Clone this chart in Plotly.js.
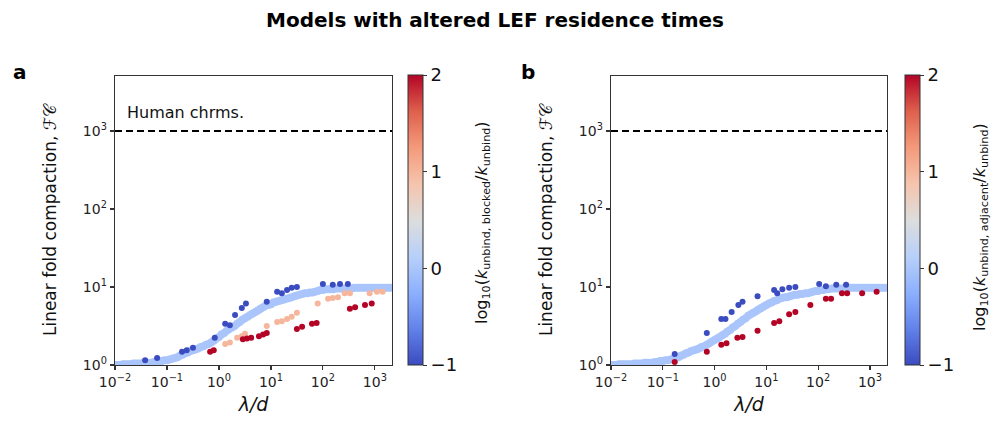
<!DOCTYPE html>
<html><head><meta charset="utf-8">
<script src="https://cdn.plot.ly/plotly-3.0.1.min.js"></script>
<style>html,body{margin:0;padding:0;background:#fff}</style>
</head><body><div id="chart" style="width:991px;height:425px"></div>
<script>
// ---- data (log10 of lambda/d and log10 of FC) ----
const colorValues = [-1, 0, 1, 2];   // log10(k ratio) for each series
const humanFC = 1000;
const xTickVals = [0.01, 0.1, 1, 10, 100, 1000];
const xTickText = ['10<sup>\u22122</sup>','10<sup>\u22121</sup>','10<sup>0</sup>','10<sup>1</sup>','10<sup>2</sup>','10<sup>3</sup>'];
const yTickVals = [1, 10, 100, 1000];
const yTickText = ['10<sup>0</sup>','10<sup>1</sup>','10<sup>2</sup>','10<sup>3</sup>'];

const lbLogLam = [-2.00,-1.95,-1.90,-1.85,-1.80,-1.75,-1.70,-1.65,-1.60,-1.55,-1.50,-1.45,-1.40,-1.35,-1.30,-1.25,-1.20,-1.15,-1.10,-1.05,
  -1.00,-0.95,-0.90,-0.85,-0.80,-0.75,-0.70,-0.65,-0.60,-0.55,-0.50,-0.45,-0.40,-0.35,-0.30,-0.25,-0.20,-0.15,-0.10,-0.05,
  0.00,0.05,0.10,0.15,0.20,0.25,0.30,0.35,0.40,0.45,0.50,0.55,0.60,0.65,0.70,0.75,0.80,0.85,0.90,0.95,
  1.00,1.05,1.10,1.15,1.20,1.25,1.30,1.35,1.40,1.45,1.50,1.55,1.60,1.65,1.70,1.75,1.80,1.85,1.90,1.95,
  2.00,2.05,2.10,2.15,2.20,2.25,2.30,2.35,2.40,2.45,2.50,2.55,2.60,2.65,2.70,2.75,2.80,2.85,2.90,2.95,
  3.00,3.05,3.10,3.15,3.20,3.25,3.30];
const lbLogFcA = [0.00,0.00,0.00,0.01,0.01,0.01,0.01,0.02,0.02,0.02,0.02,0.03,0.03,0.03,0.03,0.04,0.04,0.05,0.05,0.06,
  0.06,0.07,0.08,0.09,0.10,0.12,0.13,0.15,0.16,0.18,0.19,0.20,0.21,0.23,0.24,0.26,0.27,0.29,0.31,0.34,
  0.36,0.39,0.41,0.44,0.46,0.48,0.50,0.53,0.55,0.58,0.60,0.62,0.64,0.66,0.68,0.70,0.72,0.74,0.76,0.77,
  0.78,0.80,0.81,0.82,0.83,0.84,0.85,0.86,0.87,0.88,0.89,0.90,0.91,0.92,0.92,0.93,0.93,0.94,0.95,0.96,
  0.96,0.97,0.97,0.97,0.97,0.98,0.98,0.98,0.98,0.98,0.98,0.98,0.99,0.99,0.99,0.99,0.99,0.99,0.99,0.99,
  0.99,0.99,0.99,0.99,0.99,0.99,0.99];
const lbLogFcB = [0.00,0.00,0.00,0.01,0.01,0.01,0.01,0.01,0.01,0.02,0.02,0.02,0.02,0.03,0.03,0.03,0.03,0.04,0.04,0.05,
  0.05,0.06,0.06,0.07,0.08,0.09,0.10,0.12,0.13,0.15,0.16,0.18,0.19,0.20,0.21,0.23,0.24,0.26,0.28,0.30,
  0.32,0.34,0.36,0.38,0.40,0.43,0.45,0.48,0.50,0.53,0.55,0.58,0.60,0.63,0.65,0.67,0.69,0.71,0.73,0.75,
  0.77,0.79,0.80,0.82,0.83,0.85,0.86,0.87,0.87,0.88,0.89,0.90,0.90,0.91,0.91,0.92,0.92,0.93,0.94,0.95,
  0.95,0.96,0.96,0.97,0.97,0.98,0.98,0.98,0.98,0.98,0.98,0.98,0.99,0.99,0.99,0.99,0.99,0.99,0.99,0.99,
  0.99,0.99,0.99,0.99,0.99,0.99,0.99];

const blueLogLamA = [-1.42,-1.19,-0.71,-0.62,-0.5,-0.08,0.12,0.21,0.31,0.44,0.52,0.92,1.12,1.21,1.31,1.40,1.50,2.0,2.19,2.33,2.48];
const blueLogFcA  = [0.06,0.09,0.17,0.19,0.22,0.35,0.53,0.51,0.64,0.73,0.79,0.81,0.94,0.92,0.96,0.99,1.0,1.04,1.03,1.04,1.04];
const salmonLogLamA = [0.12,0.21,0.35,0.44,0.5,0.92,1.12,1.21,1.31,1.40,1.50,1.9,2.1,2.19,2.29,2.42,2.52,2.9,3.04,3.15];
const salmonLogFcA  = [0.27,0.29,0.35,0.37,0.40,0.50,0.55,0.56,0.59,0.62,0.67,0.79,0.85,0.86,0.87,0.92,0.92,0.92,0.94,0.94];
const redLogLamA = [-0.17,-0.1,0.46,0.54,0.62,0.77,0.85,0.92,1.5,1.6,1.79,1.88,2.52,2.62,2.81,2.94];
const redLogFcA  = [0.17,0.19,0.33,0.34,0.35,0.37,0.39,0.41,0.46,0.49,0.53,0.54,0.72,0.74,0.77,0.79];

const blueLogLamB = [-0.77,-0.15,0.13,0.21,0.33,0.46,0.54,0.83,1.15,1.21,1.31,1.44,1.56,2.02,2.15,2.35,2.54];
const blueLogFcB  = [0.14,0.41,0.59,0.59,0.68,0.77,0.81,0.88,0.96,0.92,0.97,0.99,1.0,1.04,1.01,1.03,1.03];
const redLogLamB = [-0.77,-0.15,0.13,0.23,0.44,0.54,0.83,1.15,1.25,1.44,1.56,1.85,2.15,2.25,2.46,2.56,2.85,3.13];
const redLogFcB  = [0.04,0.17,0.26,0.28,0.35,0.36,0.44,0.54,0.56,0.65,0.68,0.77,0.85,0.85,0.92,0.92,0.92,0.94];

const xLogRange = [-2, 3.33];
const yLogRange = [0, 3.705];

// ---- helpers ----
const pw = a => a.map(v => Math.pow(10, v));
const coolwarm = [
  [0.0,'rgb(59,76,192)'],[0.125,'rgb(98,130,234)'],[0.25,'rgb(141,176,254)'],[0.375,'rgb(184,208,249)'],
  [0.5,'rgb(221,221,221)'],[0.625,'rgb(245,196,173)'],[0.75,'rgb(244,154,123)'],[0.875,'rgb(222,96,77)'],[1.0,'rgb(180,4,38)']];

function pts(lx, ly, val, ax, cax, size) {
  return {type:'scatter', mode:'markers', x: pw(lx), y: pw(ly), xaxis: ax[0], yaxis: ax[1],
    marker:{color: lx.map(() => val), coloraxis: cax, size: size, line:{width:0}},
    showlegend:false, hoverinfo:'x+y'};
}
function refLine(ax) {
  return {type:'scatter', mode:'lines', x:[Math.pow(10,xLogRange[0]), Math.pow(10,xLogRange[1])], y:[humanFC, humanFC],
    xaxis: ax[0], yaxis: ax[1], line:{color:'#000', width:2, dash:'7px,4px'}, showlegend:false, hoverinfo:'skip'};
}
const A = ['x','y'], B = ['x2','y2'];
const data = [
  refLine(A),
  pts(lbLogLam, lbLogFcA, colorValues[1], A, 'coloraxis', 8),
  pts(blueLogLamA, blueLogFcA, colorValues[0], A, 'coloraxis', 6),
  pts(salmonLogLamA, salmonLogFcA, colorValues[2], A, 'coloraxis', 6),
  pts(redLogLamA, redLogFcA, colorValues[3], A, 'coloraxis', 6),
  refLine(B),
  pts(lbLogLam, lbLogFcB, colorValues[1], B, 'coloraxis2', 8),
  pts(blueLogLamB, blueLogFcB, colorValues[0], B, 'coloraxis2', 6),
  pts(redLogLamB, redLogFcB, colorValues[3], B, 'coloraxis2', 6)
];

const W = 991, H = 425;
const font = 'DejaVu Sans, sans-serif';
const yTitle = 'Linear fold compaction, \u2131\uD835\uDC9E';
function xax(dom, anchor) {
  return {domain: dom, anchor: anchor, type:'log', range: xLogRange, tickmode:'array', tickvals: xTickVals, ticktext: xTickText,
    showgrid:false, zeroline:false, ticks:'outside', ticklen:4, tickwidth:1.2, tickcolor:'#333',
    showline:true, linecolor:'#333', linewidth:1.3, mirror:true,
    tickfont:{size:14, color:'#222', family:font},
    title:{text:'<i>\u03bb/d</i>', font:{size:19, color:'#111', family:font}, standoff:8}};
}
function yax(anchor) {
  return {domain:[1-365/H, 1-76/H], anchor: anchor, type:'log', range: yLogRange, tickmode:'array', tickvals: yTickVals, ticktext: yTickText,
    showgrid:false, zeroline:false, ticks:'outside', ticklen:4, tickwidth:1.2, tickcolor:'#333',
    showline:true, linecolor:'#333', linewidth:1.3, mirror:true,
    tickfont:{size:14, color:'#222', family:font},
    title:{text: yTitle, font:{size:17, color:'#111', family:font}, standoff:22}};
}
function cax(xpx) {
  return {cmin:-1, cmax:2, colorscale: coolwarm, showscale:true,
    colorbar:{x: xpx/W, xanchor:'left', xpad:0, ypad:0, thickness:15, thicknessmode:'pixels',
      len: 290/H, lenmode:'fraction', y: 1-220/H, yanchor:'middle',
      outlinewidth:1, outlinecolor:'#333', tickvals: colorValues, ticktext:['\u22121','0','1','2'],
      ticks:'outside', ticklen:4, tickcolor:'#333', tickfont:{size:18, color:'#111', family:font}}};
}
const cbTitleA = 'log<sub>10</sub>(<i>k</i><sub>unbind, blocked</sub>/<i>k</i><sub>unbind</sub>)';
const cbTitleB = 'log<sub>10</sub>(<i>k</i><sub>unbind, adjacent</sub>/<i>k</i><sub>unbind</sub>)';
const layout = {
  width: W, height: H, margin:{l:0,r:0,t:0,b:0}, paper_bgcolor:'#fff', plot_bgcolor:'#fff',
  font:{family: font, color:'#111'},
  xaxis: xax([115/W, 392/W], 'y'), yaxis: yax('x'),
  xaxis2: xax([611/W, 887/W], 'y2'), yaxis2: yax('x2'),
  coloraxis: cax(408), coloraxis2: cax(905),
  annotations: [
    {text:'<b>Models with altered LEF residence times</b>', xref:'paper', yref:'paper', x:495/W, y:1-20/H,
      xanchor:'center', yanchor:'middle', showarrow:false, font:{size:20, color:'#000', family:font}},
    {text:'<b>a</b>', xref:'paper', yref:'paper', x:20/W, y:1-72/H, xanchor:'center', yanchor:'middle', showarrow:false, font:{size:20,color:'#000'}},
    {text:'<b>b</b>', xref:'paper', yref:'paper', x:528/W, y:1-72/H, xanchor:'center', yanchor:'middle', showarrow:false, font:{size:20,color:'#000'}},
    {text:'Human chrms.', xref:'x domain', yref:'y', x:0.035, y:3.24, xanchor:'left', yanchor:'middle', showarrow:false, font:{size:16,color:'#111'}},
    {text: cbTitleA, xref:'paper', yref:'paper', x:483/W, y:1-223/H, xanchor:'center', yanchor:'middle', textangle:-90, showarrow:false, font:{size:16,color:'#111'}},
    {text: cbTitleB, xref:'paper', yref:'paper', x:981/W, y:1-227/H, xanchor:'center', yanchor:'middle', textangle:-90, showarrow:false, font:{size:16,color:'#111'}}
  ]
};
Plotly.newPlot('chart', data, layout, {staticPlot:true, displayModeBar:false});
</script></body></html>
